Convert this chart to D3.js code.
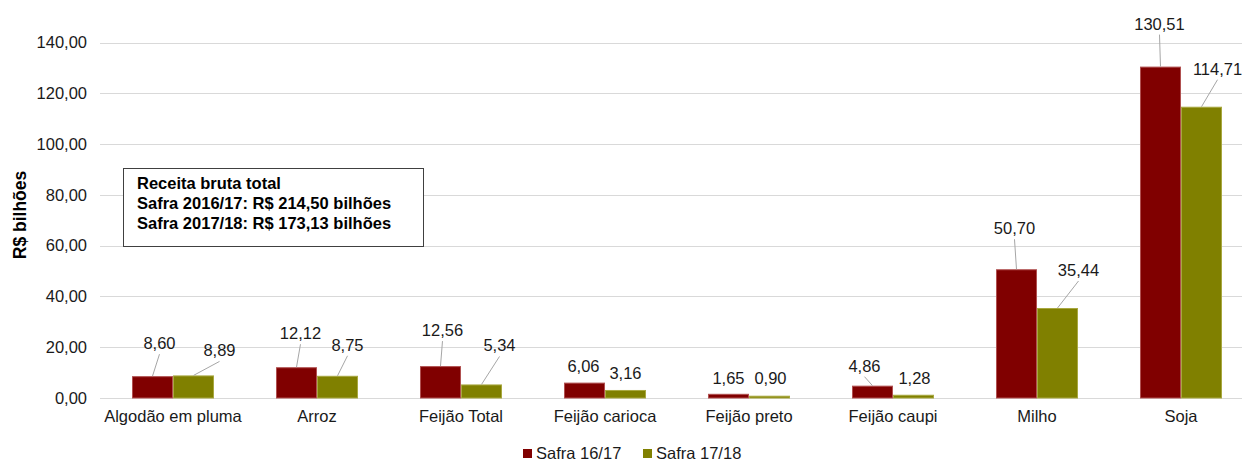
<!DOCTYPE html>
<html>
<head>
<meta charset="utf-8">
<script src="https://cdn.jsdelivr.net/npm/d3@7/dist/d3.min.js"></script>
<style>
  html, body { margin: 0; padding: 0; background: #fff; }
  svg { display: block; font-family: "Liberation Sans", Arial, sans-serif; }
</style>
</head>
<body>
<svg id="chart" width="1242" height="461"></svg>
<script>
// Receita bruta por cultura (R$ bilhões)
const categories = ["Algodão em pluma", "Arroz", "Feijão Total", "Feijão carioca",
                    "Feijão preto", "Feijão caupi", "Milho", "Soja"];
const seriesNames = ["Safra 16/17", "Safra 17/18"];
const safra1617 = [8.60, 12.12, 12.56, 6.06, 1.65, 4.86, 50.70, 130.51];
const safra1718 = [8.89, 8.75, 5.34, 3.16, 0.90, 1.28, 35.44, 114.71];
const yTicks = [0, 20, 40, 60, 80, 100, 120, 140];
const boxLines = ["Receita bruta total",
                  "Safra 2016/17: R$ 214,50 bilhões",
                  "Safra 2017/18: R$ 173,13 bilhões"];

// Label placement relative to the top of each bar: [dx, dy, leader line]
const labelLayout1617 = [[7, -33, true], [4, -34, true], [2, -36, true], [-1, -17, false],
                         [0, -16, false], [-8, -20, true], [-2, -41, true], [-1, -43, true]];
const labelLayout1718 = [[26, -25, true], [10, -31, true], [18, -39, true], [0, -17, false],
                         [1, -18, false], [1, -17, false], [21, -38, true], [16, -38, true]];

const colors = ["#800000", "#808000"];
const strokes = ["#b05050", "#a8a840"];
const fmt = v => d3.format(".2f")(v).replace(".", ",");
const FONT = "Liberation Sans, Arial, sans-serif";

const svg = d3.select("#chart");

const x0 = d3.scaleBand().domain(categories).range([101, 1253]).paddingInner(0).paddingOuter(0);
const x1 = d3.scaleBand().domain(seriesNames).range([0, x0.bandwidth()]).paddingInner(0).paddingOuter(0.756);
const y = d3.scaleLinear().domain([0, 140]).range([398, 42.5]);

// Gridlines
svg.append("g").selectAll("line").data(yTicks).join("line")
  .attr("x1", 100).attr("x2", 1242)
  .attr("y1", d => Math.round(y(d)) + 0.5).attr("y2", d => Math.round(y(d)) + 0.5)
  .attr("stroke", "#d9d9d9").attr("stroke-width", 1);

// Y axis labels
const yAxis = d3.axisLeft(y).tickValues(yTicks).tickFormat(fmt).tickSize(0).tickPadding(0);
const yg = svg.append("g").attr("transform", "translate(87,0)").call(yAxis);
yg.select(".domain").remove();
yg.selectAll("text").attr("font-size", 16.5).attr("fill", "#1a1a1a").attr("font-family", FONT);

// Y axis title
svg.append("text")
  .attr("transform", "translate(26,215) rotate(-90)")
  .attr("text-anchor", "middle")
  .attr("font-size", 17.5).attr("font-weight", "bold").attr("fill", "#000")
  .text("R$ bilhões");

// X axis labels
const xAxis = d3.axisBottom(x0).tickSize(0).tickPadding(0);
const xg = svg.append("g").attr("transform", "translate(0,410)").call(xAxis);
xg.select(".domain").remove();
xg.selectAll("text").attr("font-size", 16.5).attr("fill", "#1a1a1a").attr("font-family", FONT);

// Bars and labels
const seriesData = [safra1617, safra1718];
const layouts = [labelLayout1617, labelLayout1718];

seriesData.forEach((vals, si) => {
  const rows = categories.map((c, i) => ({
    cat: c, value: vals[i], layout: layouts[si][i],
    cx: x0(c) + x1(seriesNames[si]) + x1.bandwidth() / 2
  }));
  const g = svg.append("g");
  g.selectAll("rect").data(rows).join("rect")
    .attr("x", d => x0(d.cat) + x1(seriesNames[si]) + 0.5)
    .attr("y", d => y(d.value) + 0.5)
    .attr("width", x1.bandwidth() - 1)
    .attr("height", d => y(0) - y(d.value) - 0.5)
    .attr("fill", colors[si])
    .attr("stroke", strokes[si]).attr("stroke-width", 1);

  g.selectAll("line.leader").data(rows.filter(d => d.layout[2])).join("line")
    .attr("class", "leader")
    .attr("x1", d => d.cx).attr("y1", d => y(d.value))
    .attr("x2", d => d.cx + d.layout[0]).attr("y2", d => y(d.value) + d.layout[1] + 11)
    .attr("stroke", "#a6a6a6").attr("stroke-width", 1);

  g.selectAll("text").data(rows).join("text")
    .attr("x", d => d.cx + d.layout[0])
    .attr("y", d => y(d.value) + d.layout[1])
    .attr("dy", "0.36em")
    .attr("text-anchor", "middle")
    .attr("font-size", 16.5).attr("fill", "#1a1a1a")
    .text(d => fmt(d.value));
});

// Info box
const box = svg.append("g");
box.append("rect").attr("x", 123.5).attr("y", 168.5).attr("width", 300).attr("height", 78)
  .attr("fill", "#fff").attr("stroke", "#404040").attr("stroke-width", 1);
box.selectAll("text").data(boxLines).join("text")
  .attr("x", 137).attr("y", (d, i) => 189 + i * 20)
  .attr("font-size", 16.5).attr("font-weight", "bold").attr("fill", "#000")
  .text(d => d);

// Legend
const legend = svg.append("g");
const legendX = [523, 643];
seriesNames.forEach((s, i) => {
  legend.append("rect").attr("x", legendX[i]).attr("y", 449).attr("width", 9).attr("height", 9)
    .attr("fill", colors[i]);
  legend.append("text").attr("x", legendX[i] + 13).attr("y", 459)
    .attr("font-size", 16.5).attr("fill", "#1a1a1a").text(s);
});
</script>
</body>
</html>
